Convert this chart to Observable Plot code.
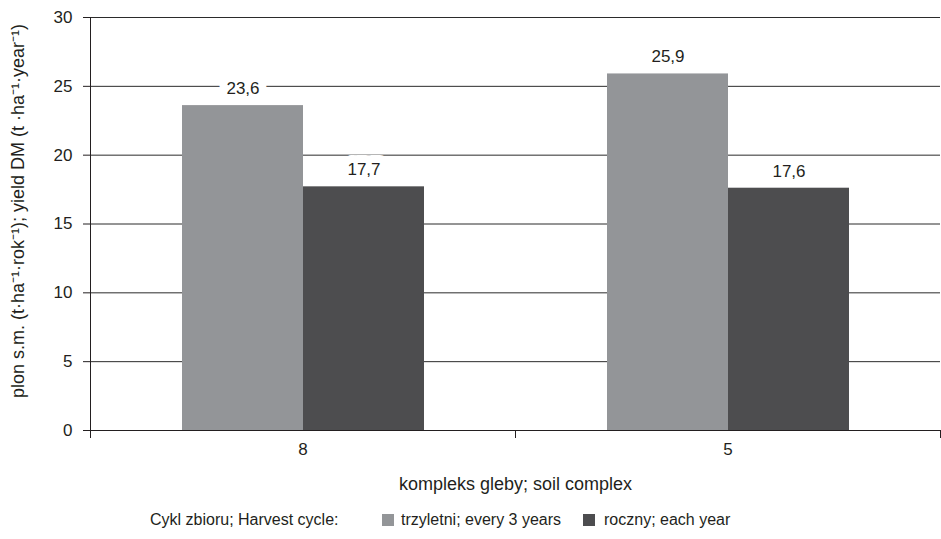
<!DOCTYPE html>
<html>
<head>
<meta charset="utf-8">
<script src="https://cdn.jsdelivr.net/npm/d3@7"></script>
<script src="https://cdn.jsdelivr.net/npm/@observablehq/plot@0.6"></script>
<style>
  html, body { margin: 0; padding: 0; background: white; }
  #legend { position: relative; font-family: "Liberation Sans", Arial, sans-serif; font-size: 16px; color: #231f20;
    height: 39px; white-space: nowrap; }
  #legend span { position: absolute; line-height: 20px; top: 10px; }
  #legend .sw { width: 12px; height: 12px; top: 14px; }
</style>
</head>
<body>
<div id="chart"></div>
<div id="legend"></div>
<script>
const categories = ["8", "5"];
const series = ["trzyletni; every 3 years", "roczny; each year"];
const trzyletni = [23.6, 25.9];
const roczny = [17.7, 17.6];
const yTicks = [0, 5, 10, 15, 20, 25, 30];
const colors = ["#939598", "#4d4d4f"];
const yLabel = "plon s.m. (t·ha⁻¹·rok⁻¹); yield DM (t ·ha⁻¹·year⁻¹)";
const xLabel = "kompleks gleby; soil complex";
const legendTitle = "Cykl zbioru; Harvest cycle:";

const data = categories.flatMap((c, i) => [
  {cat: c, s: series[0], v: trzyletni[i]},
  {cat: c, s: series[1], v: roczny[i]}
]);
const fmt = v => v.toFixed(1).replace(".", ",");

const W = 941, H = 500, mT = 17, mB = 70, mL = 90, mR = 1;
const ink = "#231f20";

const chart = Plot.plot({
  width: W, height: H, marginLeft: mL, marginRight: mR, marginTop: mT, marginBottom: mB,
  style: {fontFamily: "'Liberation Sans', Arial, sans-serif", fontSize: "17px", color: ink, background: "white", overflow: "visible"},
  fx: {domain: categories, padding: 0, label: null},
  x: {domain: series, paddingInner: 0, paddingOuter: 0.756, axis: null},
  y: {domain: [0, 30], ticks: yTicks},
  color: {domain: series, range: colors},
  marks: [
    Plot.ruleY(yTicks.filter(t => t > 0), {stroke: "#2b2b2b", strokeWidth: 1}),
    Plot.barY(data, {fx: "cat", x: "s", y: "v", fill: "s"}),
    Plot.ruleY([0], {stroke: ink, strokeWidth: 1}),
    Plot.frame({anchor: "left", facet: "super", stroke: ink, insetBottom: -7}),
    Plot.frame({anchor: "right", stroke: ink, insetTop: H - mT - mB, insetBottom: -7}),
    Plot.text(data, {fx: "cat", x: "s", y: "v", text: d => fmt(d.v), dy: -17,
      fill: ink, stroke: "white", strokeWidth: 16, paintOrder: "stroke", fontSize: 17}),
    Plot.axisY({ticks: yTicks, tickSize: 7, tickPadding: 11, label: null, fontSize: 17, stroke: ink, fill: ink}),
    Plot.axisFx({anchor: "bottom", tickSize: 0, tickPadding: 12, label: null, fontSize: 17, fill: ink}),
    Plot.text([yLabel], {facet: "super", frameAnchor: "left", textAnchor: "middle", rotate: -90, dx: -72, dy: -13, fontSize: 18, fill: ink}),
    Plot.text([xLabel], {facet: "super", frameAnchor: "bottom", dy: 59, fontSize: 18, fill: ink})
  ]
});
document.getElementById("chart").appendChild(chart);

const legend = document.getElementById("legend");
const add = (cls, left, text, bg) => {
  const el = document.createElement("span");
  if (cls) el.className = cls;
  el.style.left = left + "px";
  if (text) el.textContent = text;
  if (bg) el.style.background = bg;
  legend.appendChild(el);
};
add(null, 150, legendTitle);
const swatchX = [382, 583];
const labelX = [401, 604];
series.forEach((s, i) => {
  add("sw", swatchX[i], null, colors[i]);
  add(null, labelX[i], s);
});
</script>
</body>
</html>
